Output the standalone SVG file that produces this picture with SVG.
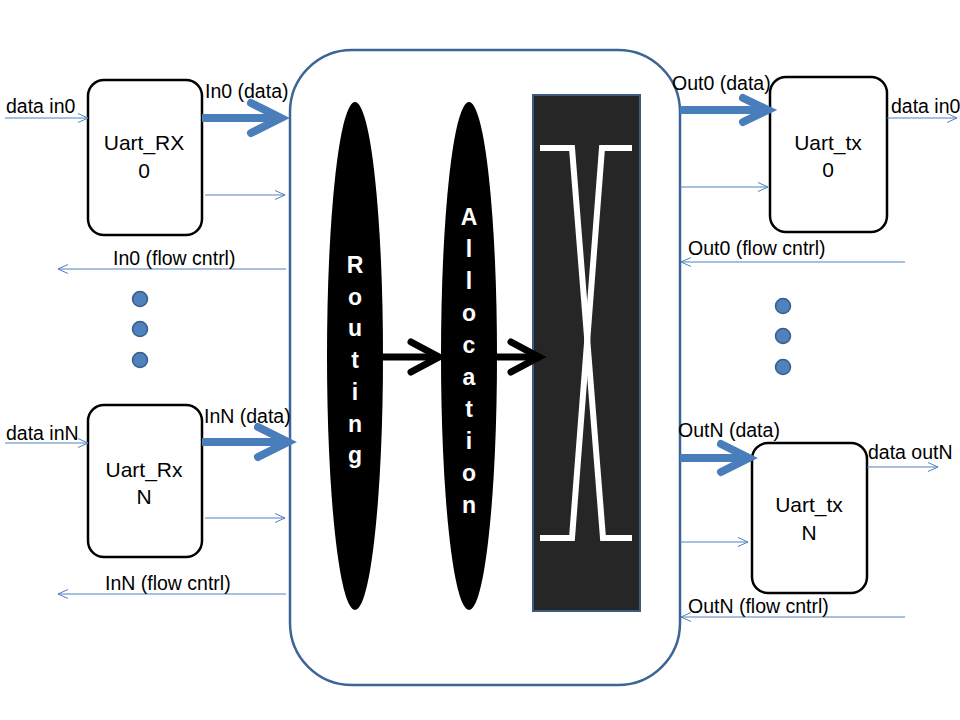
<svg xmlns="http://www.w3.org/2000/svg" width="960" height="720" viewBox="0 0 960 720">
<defs>
<marker id="open" viewBox="0 0 10 10" refX="10" refY="5" markerWidth="10" markerHeight="10" markerUnits="userSpaceOnUse" orient="auto">
<path d="M0,0.5 L10,5 L0,9.5" fill="none" stroke="#4f81bd" stroke-width="1"/>
</marker>
</defs>
<style>
.lbl{font-family:"Liberation Sans",Arial,sans-serif;font-size:19.5px;fill:#000}
.box{fill:#fff;stroke:#000;stroke-width:2.5}
.btxt{font-family:"Liberation Sans",Arial,sans-serif;font-size:21px;fill:#000;text-anchor:middle}
.thin{stroke:#4f81bd;stroke-width:1;fill:none;marker-end:url(#open)}
.thick{stroke:#4a7ebb;stroke-width:8;fill:none}
.head{stroke:#4a7ebb;stroke-width:8;fill:none;stroke-linecap:round;stroke-linejoin:miter}
.blk{stroke:#000;stroke-width:7;fill:none}
.blkhead{stroke:#000;stroke-width:7;fill:none;stroke-linecap:round}
.vt{font-family:"Liberation Sans",Arial,sans-serif;font-size:23px;font-weight:bold;fill:#fff;text-anchor:middle}
.dot{fill:#4f81bd;stroke:#385d8a;stroke-width:1.5}
</style>
<rect width="960" height="720" fill="#fff"/>

<g id="router">
<rect x="290" y="50" width="390" height="635" rx="62" ry="62" fill="#fff" stroke="#3c6494" stroke-width="2.5"/>
</g>

<g id="routing">
<ellipse cx="355" cy="356" rx="28" ry="254" fill="#000"/>
<text class="vt" x="355" y="273">R</text>
<text class="vt" x="355" y="305">o</text>
<text class="vt" x="355" y="336">u</text>
<text class="vt" x="355" y="368">t</text>
<text class="vt" x="355" y="400">i</text>
<text class="vt" x="355" y="432">n</text>
<text class="vt" x="355" y="463">g</text>
</g>

<g id="allocation">
<ellipse cx="469" cy="356" rx="28" ry="254" fill="#000"/>
<text class="vt" x="469" y="225">A</text>
<text class="vt" x="469" y="257">l</text>
<text class="vt" x="469" y="289">l</text>
<text class="vt" x="469" y="321">o</text>
<text class="vt" x="469" y="353">c</text>
<text class="vt" x="469" y="385">a</text>
<text class="vt" x="469" y="417">t</text>
<text class="vt" x="469" y="449">i</text>
<text class="vt" x="469" y="481">o</text>
<text class="vt" x="469" y="513">n</text>
</g>

<g id="crossbar">
<rect x="533" y="95" width="107" height="516" fill="#262626" stroke="#3d5a80" stroke-width="2"/>
<path d="M540,148 L572,148 L603,538 L632,538" fill="none" stroke="#fff" stroke-width="6"/>
<path d="M632,148 L602,148 L572,538 L540,538" fill="none" stroke="#fff" stroke-width="6"/>
</g>

<g id="uart_rx0">
<rect class="box" x="88" y="80" width="114" height="155" rx="16"/>
<text class="btxt" x="144" y="150">Uart_RX</text>
<text class="btxt" x="144" y="178">0</text>
</g>

<g id="uart_rxN">
<rect class="box" x="88" y="405" width="114" height="152" rx="16"/>
<text class="btxt" x="144" y="477">Uart_Rx</text>
<text class="btxt" x="144" y="504">N</text>
</g>

<g id="uart_tx0">
<rect class="box" x="770" y="77" width="117" height="155" rx="16"/>
<text class="btxt" x="828" y="150">Uart_tx</text>
<text class="btxt" x="828" y="177">0</text>
</g>

<g id="uart_txN">
<rect class="box" x="752" y="443" width="115" height="150" rx="16"/>
<text class="btxt" x="809" y="512">Uart_tx</text>
<text class="btxt" x="809" y="540">N</text>
</g>

<g id="dots_left">
<circle class="dot" cx="140" cy="299" r="7.5"/>
<circle class="dot" cx="140" cy="329" r="7.5"/>
<circle class="dot" cx="140" cy="360" r="7.5"/>
</g>
<g id="dots_right">
<circle class="dot" cx="783" cy="306" r="7.5"/>
<circle class="dot" cx="783" cy="336" r="7.5"/>
<circle class="dot" cx="783" cy="367" r="7.5"/>
</g>

<g id="connectors">
<line class="thin" x1="5" y1="118" x2="88" y2="118"/>
<line class="thick" x1="202" y1="118" x2="278" y2="118"/>
<path class="head" d="M251,103 L281,118 L251,133"/>
<line class="thin" x1="205" y1="195" x2="285" y2="195"/>
<line class="thin" x1="286" y1="269" x2="58" y2="269"/>
<line class="thin" x1="5" y1="443" x2="88" y2="443"/>
<line class="thick" x1="202" y1="442" x2="285" y2="442"/>
<path class="head" d="M258,427 L288,442 L258,457"/>
<line class="thin" x1="205" y1="518" x2="285" y2="518"/>
<line class="thin" x1="286" y1="594" x2="58" y2="594"/>
<line class="thick" x1="680" y1="110" x2="765" y2="110"/>
<path class="head" d="M743,98 L768,110 L743,122"/>
<line class="thin" x1="887" y1="118" x2="957" y2="118"/>
<line class="thin" x1="680" y1="187" x2="768" y2="187"/>
<line class="thin" x1="905" y1="262" x2="681" y2="262"/>
<line class="thick" x1="680" y1="458" x2="747" y2="458"/>
<path class="head" d="M721,444 L749,458 L721,472"/>
<line class="thin" x1="867" y1="467" x2="938" y2="467"/>
<line class="thin" x1="680" y1="542" x2="748" y2="542"/>
<line class="thin" x1="905" y1="617" x2="681" y2="617"/>
<line class="blk" x1="383" y1="357" x2="436" y2="357"/>
<path class="blkhead" d="M411,342 L439,357 L411,372"/>
<line class="blk" x1="497" y1="357" x2="536" y2="357"/>
<path class="blkhead" d="M511,342 L539,357 L511,372"/>
</g>

<g id="labels">
<text class="lbl" x="6" y="113">data in0</text>
<text class="lbl" x="205" y="98">In0 (data)</text>
<text class="lbl" x="113" y="265">In0 (flow cntrl)</text>
<text class="lbl" x="6" y="440">data inN</text>
<text class="lbl" x="204" y="423">InN (data)</text>
<text class="lbl" x="105" y="590">InN (flow cntrl)</text>
<text class="lbl" x="672" y="90">Out0 (data)</text>
<text class="lbl" x="891" y="113">data in0</text>
<text class="lbl" x="688" y="255">Out0 (flow cntrl)</text>
<text class="lbl" x="678" y="437">OutN (data)</text>
<text class="lbl" x="868" y="459">data outN</text>
<text class="lbl" x="688" y="613">OutN (flow cntrl)</text>
</g>
</svg>
